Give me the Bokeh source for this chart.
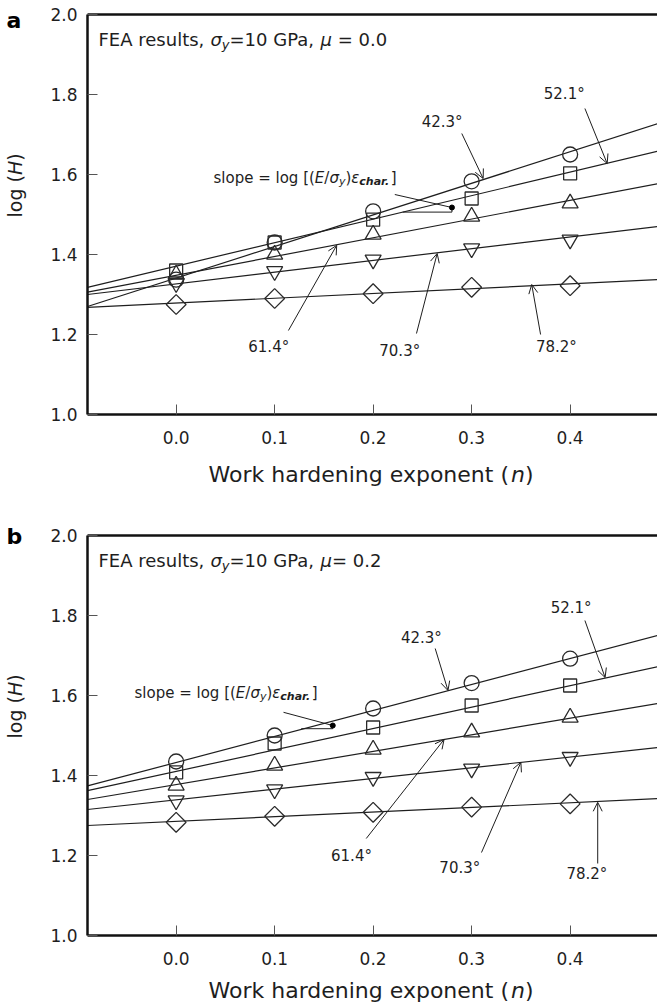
import math
from bokeh.plotting import figure
from bokeh.layouts import column
from bokeh.models import Range1d, FixedTicker, PrintfTickFormatter, Label, Arrow, OpenHead
from bokeh.embed import file_html
from bokeh.resources import INLINE

# ---------------- data ----------------
n_values = [0.0, 0.1, 0.2, 0.3, 0.4]
angle_labels = ["42.3°", "52.1°", "61.4°", "70.3°", "78.2°"]
x_ticks = [0.0, 0.1, 0.2, 0.3, 0.4]
y_ticks = [1.0, 1.2, 1.4, 1.6, 1.8, 2.0]

# panel a: mu = 0.0, log(H) per indenter angle
a_423 = [1.337, 1.430, 1.508, 1.583, 1.650]
a_521 = [1.360, 1.430, 1.487, 1.540, 1.603]
a_614 = [1.350, 1.400, 1.450, 1.495, 1.528]
a_703 = [1.328, 1.358, 1.387, 1.415, 1.437]
a_782 = [1.275, 1.290, 1.302, 1.318, 1.322]

# panel b: mu = 0.2
b_423 = [1.435, 1.500, 1.5675, 1.631, 1.692]
b_521 = [1.408, 1.480, 1.520, 1.575, 1.625]
b_614 = [1.375, 1.425, 1.465, 1.508, 1.545]
b_703 = [1.3375, 1.365, 1.396, 1.417, 1.446]
b_782 = [1.283, 1.298, 1.308, 1.321, 1.329]

# fitted lines: log(H) read at the left and right plot edges
fit_n = [-0.09, 0.4887]
a_fit_423 = [1.270, 1.727]
a_fit_521 = [1.318, 1.658]
a_fit_614 = [1.306, 1.577]
a_fit_703 = [1.300, 1.470]
a_fit_782 = [1.268, 1.337]
b_fit_423 = [1.374, 1.750]
b_fit_521 = [1.362, 1.672]
b_fit_614 = [1.340, 1.580]
b_fit_703 = [1.315, 1.470]
b_fit_782 = [1.275, 1.342]

# ---------------- layout / style ----------------
W = 657
X_LO, X_HI = fit_n[0], fit_n[1]     # plotted box in n
Y_LO, Y_HI = 1.0, 2.0               # plotted box in log(H)
PX_X = 570.0 / (X_HI - X_LO)        # px per unit of n (box is 570 px wide)
PX_Y = 400.0                        # px per unit of log(H)
BOX_LEFT, BOX_TOP = 87, 14          # box offset inside each canvas
FONT = "DejaVu Sans"
INK = "#1e1e1e"

MARKERS = [
    dict(marker="circle", size=15, angle=0.0),
    dict(marker="square", size=13, angle=0.0),
    dict(marker="triangle", size=16, angle=0.0),
    dict(marker="inverted_triangle", size=16, angle=0.0),
    dict(marker="square", size=14, angle=math.pi / 4),
]

DV = {' ': 0.318, ',': 0.318, '.': 0.318, 'F': 0.575, 'E': 0.632, 'A': 0.684, 'r': 0.411,
      'e': 0.615, 's': 0.521, 'u': 0.634, 'l': 0.278, 't': 0.392, '=': 0.838, 'G': 0.775,
      'P': 0.603, 'a': 0.613, 'y': 0.592, 'σ': 0.634, 'μ': 0.636, 'ε': 0.539, 'c': 0.550,
      'h': 0.634, '(': 0.390, ')': 0.390, '[': 0.390, ']': 0.390, '/': 0.337, 'o': 0.612,
      'p': 0.635, 'g': 0.635, 'W': 0.989, 'k': 0.579, 'd': 0.635, 'n': 0.634, 'i': 0.278,
      'x': 0.592, 'H': 0.752}
for _d in "0123456789":
    DV[_d] = 0.636
DVB = {'c': 0.593, 'h': 0.712, 'a': 0.675, 'r': 0.493, '.': 0.380}


def text_w(s, size, bold=False):
    tot = 0.0
    for ch in s:
        if bold and ch in DVB:
            tot += DVB[ch]
        else:
            tot += DV.get(ch, 0.6)
    return tot * size


def px_x(px):
    return X_LO + (px - BOX_LEFT) / PX_X


def px_y(py):
    return Y_HI - (py - BOX_TOP) / PX_Y


def place_runs(p, x, y, runs, vertical=False):
    """runs: (text, size_px, style, drop_px); (x, y) = start point on the text's middle line"""
    for text, size, style, drop in runs:
        bold = "bold" in style
        lead = len(text) - len(text.lstrip(" "))
        shown = text.strip(" ")
        off = text_w(" " * lead, size)
        if vertical:
            lx, ly = x, y + off / PX_Y
        else:
            lx, ly = x + off / PX_X, y - drop / PX_Y
        p.add_layout(Label(x=lx, y=ly, text=shown, text_font=FONT, text_font_size=f"{size}px",
                           text_font_style=style, text_color=INK, text_align="left",
                           text_baseline="middle",
                           angle=(math.pi / 2 if vertical else 0.0)))
        adv = text_w(text, size, bold)
        if vertical:
            y += adv / PX_Y
        else:
            x += adv / PX_X


def make_panel(letter, letter_py, mu_runs, series, fits, notes, slope, height, xlab_py):
    p = figure(width=W, height=height,
               x_range=Range1d(px_x(0), px_x(W)), y_range=Range1d(px_y(height), px_y(0)),
               output_backend="svg", toolbar_location=None, title_location=None,
               min_border=0, min_border_left=0, min_border_right=0, min_border_top=0,
               min_border_bottom=0, background_fill_color="white", border_fill_color="white")
    p.outline_line_color = None
    p.xgrid.visible = False
    p.ygrid.visible = False
    p.xaxis.fixed_location = Y_LO
    p.yaxis.fixed_location = X_LO
    p.xaxis.bounds = (X_LO, X_HI)
    p.yaxis.bounds = (Y_LO, Y_HI)
    for ax in (p.xaxis[0], p.yaxis[0]):
        ax.axis_line_width = 2.5
        ax.axis_line_color = "#111111"
        ax.major_tick_in = 10
        ax.major_tick_out = 0
        ax.minor_tick_in = 0
        ax.minor_tick_out = 0
        ax.major_tick_line_color = "#555555"
        ax.major_tick_line_width = 1
        ax.major_label_text_font = FONT
        ax.major_label_text_font_size = "17px"
        ax.major_label_text_color = INK
        ax.formatter = PrintfTickFormatter(format="%.1f")
    p.xaxis.ticker = FixedTicker(ticks=x_ticks)
    p.yaxis.ticker = FixedTicker(ticks=y_ticks)
    p.xaxis.major_label_standoff = 16
    p.yaxis.major_label_standoff = 10
    # top edge of the box
    p.line([X_LO, X_HI], [Y_HI, Y_HI], line_color="#111111", line_width=2.5)

    for vals, fit, spec in zip(series, fits, MARKERS):
        p.line(fit_n, fit, line_color=INK, line_width=1.2)
        p.scatter(n_values, vals, marker=spec["marker"], size=spec["size"],
                  angle=spec["angle"], fill_color=None, line_color="#2a2a2a", line_width=1.3)

    for text, (lx, ly, x0, y0, x1, y1) in zip(angle_labels, notes):
        p.add_layout(Label(x=lx, y=ly, text=text, text_font=FONT, text_font_size="15px",
                           text_color=INK, text_align="center", text_baseline="middle"))
        p.add_layout(Arrow(end=OpenHead(size=9, line_width=1, line_color=INK),
                           x_start=x0, y_start=y0, x_end=x1, y_end=y1,
                           line_width=1, line_color=INK))

    # slope annotation
    tx, ty, lx0, ly0, bx0, dx, dy, by = slope
    place_runs(p, tx, ty, [("slope = log [(", 15, "normal", 0), ("E", 15, "italic", 0),
                           ("/", 15, "normal", 0), ("σ", 15, "italic", 0),
                           ("y", 11, "italic", 3), (")", 15, "normal", 0),
                           ("ε", 15, "italic", 0), ("char.", 11, "bold italic", 3),
                           ("]", 15, "normal", 0)])
    p.line([lx0, dx], [ly0, dy], line_color=INK, line_width=1)
    p.line([bx0, dx, dx], [by, by, dy], line_color=INK, line_width=1)
    p.scatter([dx], [dy], size=5, marker="circle", fill_color="black", line_color="black")

    # header text
    place_runs(p, px_x(98), px_y(39),
               [("FEA results, ", 18, "normal", 0), ("σ", 18, "italic", 0),
                ("y", 13, "italic", 5), ("=10 GPa, ", 18, "normal", 0),
                ("μ", 18, "italic", 0)] + mu_runs)

    # panel letter
    p.add_layout(Label(x=px_x(6), y=px_y(letter_py), text=letter, text_font=FONT,
                       text_font_size="22px", text_font_style="bold", text_color="black",
                       text_align="left", text_baseline="middle"))

    # axis titles
    place_runs(p, px_x(14.5), px_y(217),
               [("log (", 19, "normal", 0), ("H", 19, "italic", 0), (")", 19, "normal", 0)],
               vertical=True)
    place_runs(p, px_x(208), px_y(xlab_py),
               [("Work hardening exponent (", 22, "normal", 0), ("n", 22, "italic", 0),
                (")", 22, "normal", 0)])
    return p


notes_a = [
    (0.270, 1.7325, 0.290, 1.7025, 0.3117, 1.590),
    (0.394, 1.8025, 0.415, 1.765, 0.4376, 1.6275),
    (0.094, 1.170, 0.114, 1.210, 0.163, 1.423),
    (0.227, 1.160, 0.244, 1.2025, 0.265, 1.4025),
    (0.386, 1.170, 0.370, 1.200, 0.361, 1.325),
]
notes_b = [
    (0.249, 1.745, 0.263, 1.7175, 0.276, 1.6125),
    (0.401, 1.820, 0.415, 1.7875, 0.4355, 1.645),
    (0.178, 1.200, 0.193, 1.2425, 0.272, 1.490),
    (0.288, 1.170, 0.310, 1.2075, 0.350, 1.433),
    (0.417, 1.155, 0.428, 1.180, 0.428, 1.333),
]

pa = make_panel("a", 19.5, [(" = 0.0", 18, "normal", 0)],
                [a_423, a_521, a_614, a_703, a_782],
                [a_fit_423, a_fit_521, a_fit_614, a_fit_703, a_fit_782],
                notes_a, (0.0379, 1.591, 0.222, 1.550, 0.230, 0.280, 1.5175, 1.506),
                height=521, xlab_py=474)
pb = make_panel("b", 14.5, [("= 0.2", 18, "normal", 0)],
                [b_423, b_521, b_614, b_703, b_782],
                [b_fit_423, b_fit_521, b_fit_614, b_fit_703, b_fit_782],
                notes_b, (-0.0423, 1.606, 0.109, 1.558, 0.127, 0.159, 1.525, 1.517),
                height=486, xlab_py=469)

layout = column(pa, pb, spacing=0)
open("out.html", "w").write(file_html(layout, INLINE))
